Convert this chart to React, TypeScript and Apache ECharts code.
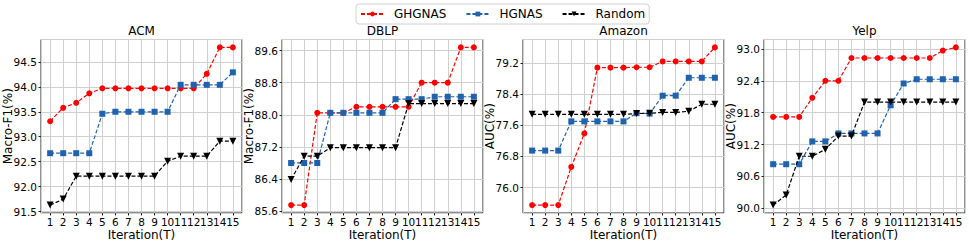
import React, { useEffect, useRef } from "react";
import * as echarts from "echarts";

const iterations = [1, 2, 3, 4, 5, 6, 7, 8, 9, 10, 11, 12, 13, 14, 15];
const datasets = ["ACM", "DBLP", "Amazon", "Yelp"];
const yAxisNames = ["Macro-F1(%)", "Macro-F1(%)", "AUC(%)", "AUC(%)"];
const yTickSteps = [0.5, 0.8, 0.8, 0.6];
const seriesNames = ["GHGNAS", "HGNAS", "Random"];

const acmGHGNAS = [93.31, 93.58, 93.68, 93.87, 93.97, 93.97, 93.97, 93.97, 93.97, 93.97, 93.97, 93.97, 94.26, 94.79, 94.79];
const acmHGNAS = [92.67, 92.67, 92.67, 92.67, 93.46, 93.5, 93.5, 93.5, 93.5, 93.5, 94.04, 94.04, 94.04, 94.04, 94.29];
const acmRandom = [91.63, 91.75, 92.21, 92.21, 92.21, 92.21, 92.21, 92.21, 92.21, 92.51, 92.61, 92.61, 92.61, 92.91, 92.91];

const dblpGHGNAS = [85.75, 85.75, 88.05, 88.05, 88.05, 88.2, 88.2, 88.2, 88.2, 88.2, 88.8, 88.8, 88.8, 89.68, 89.68];
const dblpHGNAS = [86.8, 86.8, 86.8, 88.05, 88.05, 88.05, 88.05, 88.05, 88.39, 88.39, 88.39, 88.45, 88.45, 88.45, 88.45];
const dblpRandom = [86.39, 86.97, 86.97, 87.18, 87.18, 87.18, 87.18, 87.18, 87.18, 88.28, 88.28, 88.28, 88.28, 88.28, 88.28];

const amazonGHGNAS = [75.55, 75.55, 75.55, 76.53, 77.39, 79.08, 79.08, 79.08, 79.09, 79.09, 79.24, 79.24, 79.24, 79.24, 79.6];
const amazonHGNAS = [76.95, 76.95, 76.95, 77.7, 77.7, 77.7, 77.7, 77.7, 77.91, 77.9, 78.36, 78.36, 78.82, 78.82, 78.82];
const amazonRandom = [77.88, 77.88, 77.88, 77.88, 77.88, 77.88, 77.88, 77.88, 77.9, 77.91, 77.93, 77.93, 77.96, 78.14, 78.14];

const yelpGHGNAS = [91.72, 91.72, 91.72, 92.08, 92.4, 92.4, 92.83, 92.83, 92.83, 92.83, 92.83, 92.83, 92.83, 92.97, 93.03];
const yelpHGNAS = [90.83, 90.83, 90.83, 91.26, 91.26, 91.41, 91.41, 91.41, 91.41, 91.94, 92.35, 92.43, 92.43, 92.43, 92.43];
const yelpRandom = [90.06, 90.25, 90.98, 90.98, 91.11, 91.36, 91.36, 92.0, 92.0, 92.0, 92.0, 92.0, 92.0, 92.0, 92.0];

const allData = [
  [acmGHGNAS, acmHGNAS, acmRandom],
  [dblpGHGNAS, dblpHGNAS, dblpRandom],
  [amazonGHGNAS, amazonHGNAS, amazonRandom],
  [yelpGHGNAS, yelpHGNAS, yelpRandom],
];

const FONT = "DejaVu Sans";
const COLORS = ["#ff0000", "#1f62ad", "#000000"];
const SYMBOLS = ["circle", "rect", "triangle"];
const SYMBOL_SIZES = [6, 6, 7];
const SYMBOL_ROT = [0, 0, 180];

const GRID_LEFTS = [41, 282, 523, 764];
const GRID_W = 201;
const GRID_TOP = 39.5;
const GRID_H = 173.5;

export default function App() {
  const ref = useRef<HTMLDivElement>(null);
  useEffect(() => {
    if (!ref.current) return;
    const chart = echarts.init(ref.current, null, { renderer: "svg" });

    const grids: any[] = [];
    const xAxes: any[] = [];
    const yAxes: any[] = [];
    const titles: any[] = [];
    const series: any[] = [];

    datasets.forEach((name, d) => {
      grids.push({
        left: GRID_LEFTS[d],
        top: GRID_TOP,
        width: GRID_W,
        height: GRID_H,
        show: true,
        borderColor: "#222",
        borderWidth: 1,
        backgroundColor: "transparent",
        containLabel: false,
        outerBoundsMode: "none",
      });
      titles.push({
        text: name,
        left: GRID_LEFTS[d] + GRID_W / 2,
        top: 25,
        textAlign: "center",
        padding: 0,
        textStyle: { fontFamily: FONT, fontSize: 12, fontWeight: "normal", color: "#000" },
      });
      const xMin = Math.min(...iterations);
      const xMax = Math.max(...iterations);
      const xPad = (xMax - xMin) * 0.05;
      xAxes.push({
        type: "value",
        gridIndex: d,
        min: xMin - xPad,
        max: xMax + xPad,
        minInterval: 1,
        maxInterval: 1,
        name: "Iteration(T)",
        nameLocation: "middle",
        nameGap: 16,
        nameMoveOverlap: false,
        nameTextStyle: { fontFamily: FONT, fontSize: 12, color: "#000" },
        axisLine: { show: false },
        axisTick: { show: true, length: 2.5, lineStyle: { color: "#222", width: 1 } },
        axisLabel: {
          show: true,
          showMinLabel: false,
          showMaxLabel: false,
          margin: 3,
          fontFamily: FONT,
          fontSize: 10.5,
          color: "#000",
          formatter: (v: number) => String(Math.round(v)),
        },
        splitLine: { show: true, lineStyle: { color: "#cfcfcf", width: 1 } },
      });
      const vals = allData[d].flat();
      const lo = Math.min(...vals);
      const hi = Math.max(...vals);
      const pad = (hi - lo) * 0.05;
      yAxes.push({
        type: "value",
        gridIndex: d,
        min: lo - pad,
        max: hi + pad,
        minInterval: yTickSteps[d],
        maxInterval: yTickSteps[d],
        name: yAxisNames[d],
        nameLocation: "middle",
        nameGap: 27,
        nameMoveOverlap: false,
        nameTextStyle: { fontFamily: FONT, fontSize: 12, color: "#000" },
        axisLine: { show: false },
        axisTick: { show: true, length: 2.5, lineStyle: { color: "#222", width: 1 } },
        axisLabel: {
          show: true,
          showMinLabel: false,
          showMaxLabel: false,
          margin: 4,
          fontFamily: FONT,
          fontSize: 10.5,
          color: "#000",
          formatter: (v: number) => v.toFixed(1),
        },
        splitLine: { show: true, lineStyle: { color: "#cfcfcf", width: 1 } },
      });
      allData[d].forEach((vals2, s) => {
        series.push({
          type: "line",
          name: seriesNames[s],
          xAxisIndex: d,
          yAxisIndex: d,
          data: iterations.map((x, i) => [x, vals2[i]]),
          symbol: SYMBOLS[s],
          symbolSize: SYMBOL_SIZES[s],
          symbolRotate: SYMBOL_ROT[s],
          showSymbol: true,
          lineStyle: { color: COLORS[s], width: 1.2, type: [4, 2] },
          itemStyle: { color: COLORS[s] },
          z: 2 + s,
          emphasis: { disabled: true },
        });
      });
    });

    chart.setOption({
      animation: false,
      backgroundColor: "#ffffff",
      title: titles,
      legend: {
        data: seriesNames,
        left: 356,
        top: 4,
        orient: "horizontal",
        itemWidth: 23,
        itemHeight: 6,
        itemGap: 19,
        padding: [3, 4, 3, 4],
        borderColor: "#d0d0d0",
        borderWidth: 1,
        borderRadius: 3,
        selectedMode: false,
        textStyle: { fontFamily: FONT, fontSize: 12, color: "#000", padding: [0, 0, 0, 5], lineHeight: 14 },
      },
      grid: grids,
      xAxis: xAxes,
      yAxis: yAxes,
      series,
    });
    return () => chart.dispose();
  }, []);
  return (
    <div
      ref={ref}
      style={{ position: "absolute", left: 0, top: 0, width: 969, height: 243, background: "#fff" }}
    />
  );
}
